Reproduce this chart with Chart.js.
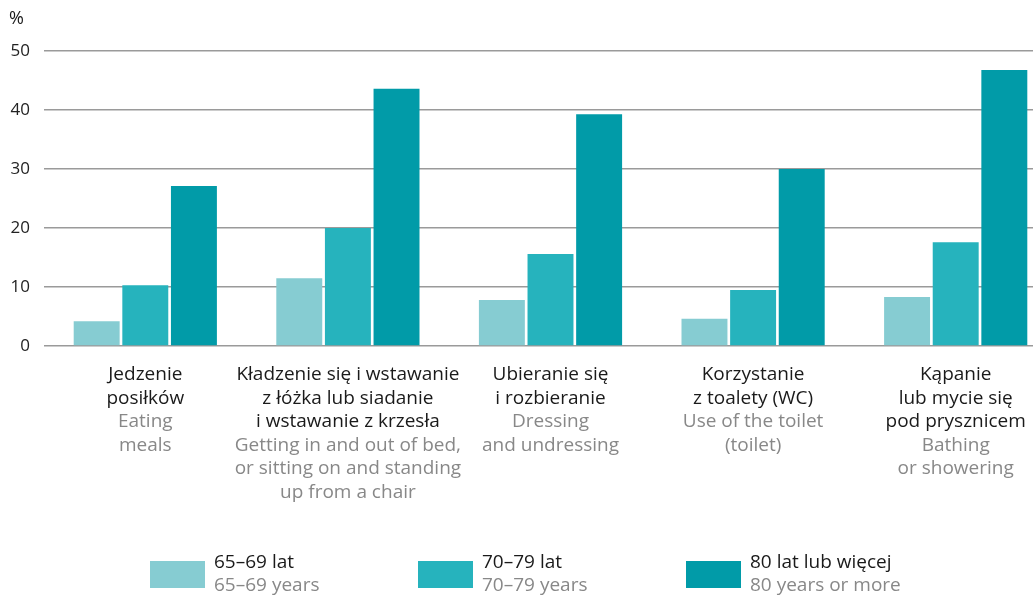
<!DOCTYPE html>
<html><head><meta charset="utf-8">
<script src="https://cdn.jsdelivr.net/npm/chart.js@4/dist/chart.umd.min.js"></script>
<style>html,body{margin:0;padding:0;background:#fff}</style>
</head><body>
<canvas id="c" width="1033" height="595"></canvas>
<script>
const categoriesPL = [["Jedzenie","posiłków"],["Kładzenie się i wstawanie","z łóżka lub siadanie","i wstawanie z krzesła"],["Ubieranie się","i rozbieranie"],["Korzystanie","z toalety (WC)"],["Kąpanie","lub mycie się","pod prysznicem"]];
const categoriesEN = [["Eating","meals"],["Getting in and out of bed,","or sitting on and standing","up from a chair"],["Dressing","and undressing"],["Use of the toilet","(toilet)"],["Bathing","or showering"]];
const seriesPL = ["65–69 lat","70–79 lat","80 lat lub więcej"];
const seriesEN = ["65–69 years","70–79 years","80 years or more"];
const age65_69 = [4.2, 11.5, 7.8, 4.6, 8.3];
const age70_79 = [10.3, 20.0, 15.6, 9.5, 17.6];
const age80plus = [27.1, 43.6, 39.3, 30.0, 46.8];
const yTicks = [0, 10, 20, 30, 40, 50];
const unitLabel = "%";

const colors = ['#86ccd2', '#26b3bd', '#019ba8'];
const FONT = '"Open Sans", sans-serif';
const seriesValues = [age65_69, age70_79, age80plus];

// lets the category band run a little past the right edge, like the reference
const widenX = {
  id: 'widenX',
  afterLayout(chart) {
    const x = chart.scales.x;
    x.right += 24;
    x.width += 24;
    x.configure();
  }
};

const textPlugin = {
  id: 'texts',
  afterDraw(chart) {
    const {ctx, chartArea, scales: {x}} = chart;
    ctx.save();
    ctx.font = '19px ' + FONT;
    ctx.textAlign = 'center';
    ctx.textBaseline = 'middle';
    categoriesPL.forEach((pl, i) => {
      const cx = x.getPixelForValue(i);
      let ly = chartArea.bottom + 29;
      pl.forEach(t => { ctx.fillStyle = '#1a1a1a'; ctx.fillText(t, cx, ly); ly += 23.5; });
      categoriesEN[i].forEach(t => { ctx.fillStyle = '#888888'; ctx.fillText(t, cx, ly); ly += 23.5; });
    });
    ctx.textAlign = 'left';
    ctx.fillStyle = '#1a1a1a';
    ctx.font = '18px ' + FONT;
    ctx.fillText(unitLabel, 9, chartArea.top - 32);
    // legend
    ctx.font = '19px ' + FONT;
    const lx0 = 150, step = 268, sy = 561;
    seriesPL.forEach((name, i) => {
      const lx = lx0 + i * step;
      ctx.fillStyle = colors[i];
      ctx.fillRect(lx, sy, 55, 27);
      ctx.fillStyle = '#1a1a1a';
      ctx.fillText(name, lx + 64, sy + 2);
      ctx.fillStyle = '#888888';
      ctx.fillText(seriesEN[i], lx + 64, sy + 25);
    });
    ctx.restore();
  }
};

new Chart(document.getElementById('c'), {
  type: 'bar',
  data: {
    labels: categoriesPL.map(a => a.join(' ')),
    datasets: seriesPL.map((name, i) => ({
      label: name,
      data: seriesValues[i],
      backgroundColor: colors[i],
      borderWidth: 0,
      categoryPercentage: 0.72,
      barPercentage: 0.945,
      clip: false
    }))
  },
  options: {
    responsive: false,
    animation: false,
    devicePixelRatio: 1,
    layout: { padding: { top: 51, bottom: 249, left: 0, right: 0 } },
    plugins: { legend: { display: false }, tooltip: { enabled: false } },
    scales: {
      x: { type: 'category', display: false },
      y: {
        min: 0, max: 50,
        afterBuildTicks: s => { s.ticks = yTicks.map(v => ({ value: v })); },
        afterFit: s => { s.width = 44; },
        ticks: { padding: 14, color: '#222', font: { family: FONT, size: 17 } },
        grid: { color: '#9a9a9a', lineWidth: 1.5, drawTicks: false },
        border: { display: false }
      }
    }
  },
  plugins: [widenX, textPlugin]
});
</script>
</body></html>
